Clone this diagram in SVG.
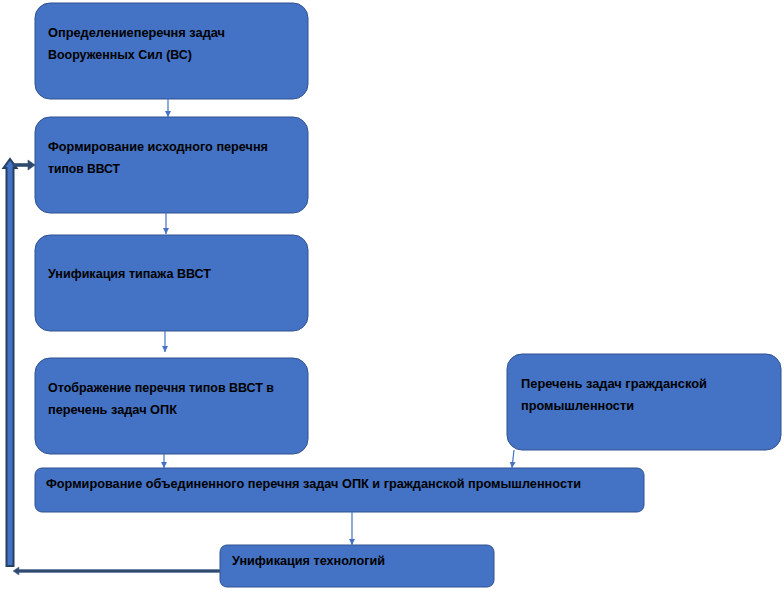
<svg xmlns="http://www.w3.org/2000/svg" width="784" height="591" viewBox="0 0 784 591">
<style>
.box{fill:#4472c4;stroke:#2f528f;stroke-width:1}
.t{font-family:"Liberation Sans",Arial,sans-serif;font-weight:bold;font-size:12.5px;fill:#000}
.c{stroke:#4472c4;stroke-width:1.2;fill:none;marker-end:url(#ah)}
</style>
<defs>
<marker id="ah" viewBox="0 0 10 10" refX="10" refY="5" markerWidth="6" markerHeight="6" orient="auto" markerUnits="userSpaceOnUse">
<path d="M0,0 L10,5 L0,10 z" fill="#4472c4"/>
</marker>
</defs>
<rect width="784" height="591" fill="#fff"/>
<g id="n1">
<rect class="box" x="35" y="3" width="273" height="96" rx="15"/>
<text class="t" x="48" y="37" textLength="177" lengthAdjust="spacingAndGlyphs">Определениеперечня задач</text>
<text class="t" x="48" y="59" textLength="144" lengthAdjust="spacingAndGlyphs">Вооруженных Сил (ВС)</text>
</g>
<g id="n2">
<rect class="box" x="35" y="117" width="273" height="96" rx="15"/>
<text class="t" x="48" y="151" textLength="220" lengthAdjust="spacingAndGlyphs">Формирование исходного перечня</text>
<text class="t" x="48" y="173" textLength="72" lengthAdjust="spacingAndGlyphs">типов ВВСТ</text>
</g>
<g id="n3">
<rect class="box" x="35" y="235" width="273" height="96" rx="15"/>
<text class="t" x="48" y="278" textLength="163" lengthAdjust="spacingAndGlyphs">Унификация типажа ВВСТ</text>
</g>
<g id="n4">
<rect class="box" x="35" y="358" width="273" height="96" rx="15"/>
<text class="t" x="48" y="392" textLength="226" lengthAdjust="spacingAndGlyphs">Отображение перечня типов ВВСТ в</text>
<text class="t" x="48" y="414" textLength="129" lengthAdjust="spacingAndGlyphs">перечень задач ОПК</text>
</g>
<g id="n5">
<rect class="box" x="507" y="354" width="274" height="96" rx="15"/>
<text class="t" x="521" y="388" textLength="186" lengthAdjust="spacingAndGlyphs">Перечень задач гражданской</text>
<text class="t" x="521" y="410" textLength="113" lengthAdjust="spacingAndGlyphs">промышленности</text>
</g>
<g id="n6">
<rect class="box" x="35" y="468" width="609" height="44" rx="7"/>
<text class="t" x="46" y="488" textLength="535" lengthAdjust="spacingAndGlyphs">Формирование объединенного перечня задач ОПК и гражданской промышленности</text>
</g>
<g id="n7">
<rect class="box" x="220" y="545" width="274" height="42" rx="7"/>
<text class="t" x="232" y="565" textLength="153" lengthAdjust="spacingAndGlyphs">Унификация технологий</text>
</g>
<g id="connectors">
<line class="c" x1="168" y1="99" x2="168" y2="117"/>
<line class="c" x1="166" y1="213" x2="166" y2="234"/>
<line class="c" x1="165" y1="331" x2="165" y2="352"/>
<line class="c" x1="164" y1="454" x2="164" y2="468"/>
<line class="c" x1="514" y1="450" x2="512" y2="468"/>
<line class="c" x1="352" y1="512" x2="352" y2="545"/>
<path d="M220,569.5 L19,569.5 L19,567 L13,571 L19,575 L19,572.5 L220,572.5 z" fill="#2e4a6e" stroke="#5a7399" stroke-width="0.6"/>
<path d="M6.5,566 L6.5,168 L3.5,168 L10,159 L16.5,168 L13.5,168 L13.5,566 z" fill="#4472c4" stroke="#253f63" stroke-width="2"/>
<path d="M13,163.5 L28,163.5 L28,160 L35,165 L28,170 L28,166.5 L13,166.5 z" fill="#2e4a6e" stroke="#2e4a6e" stroke-width="0.6"/>
</g>
</svg>
